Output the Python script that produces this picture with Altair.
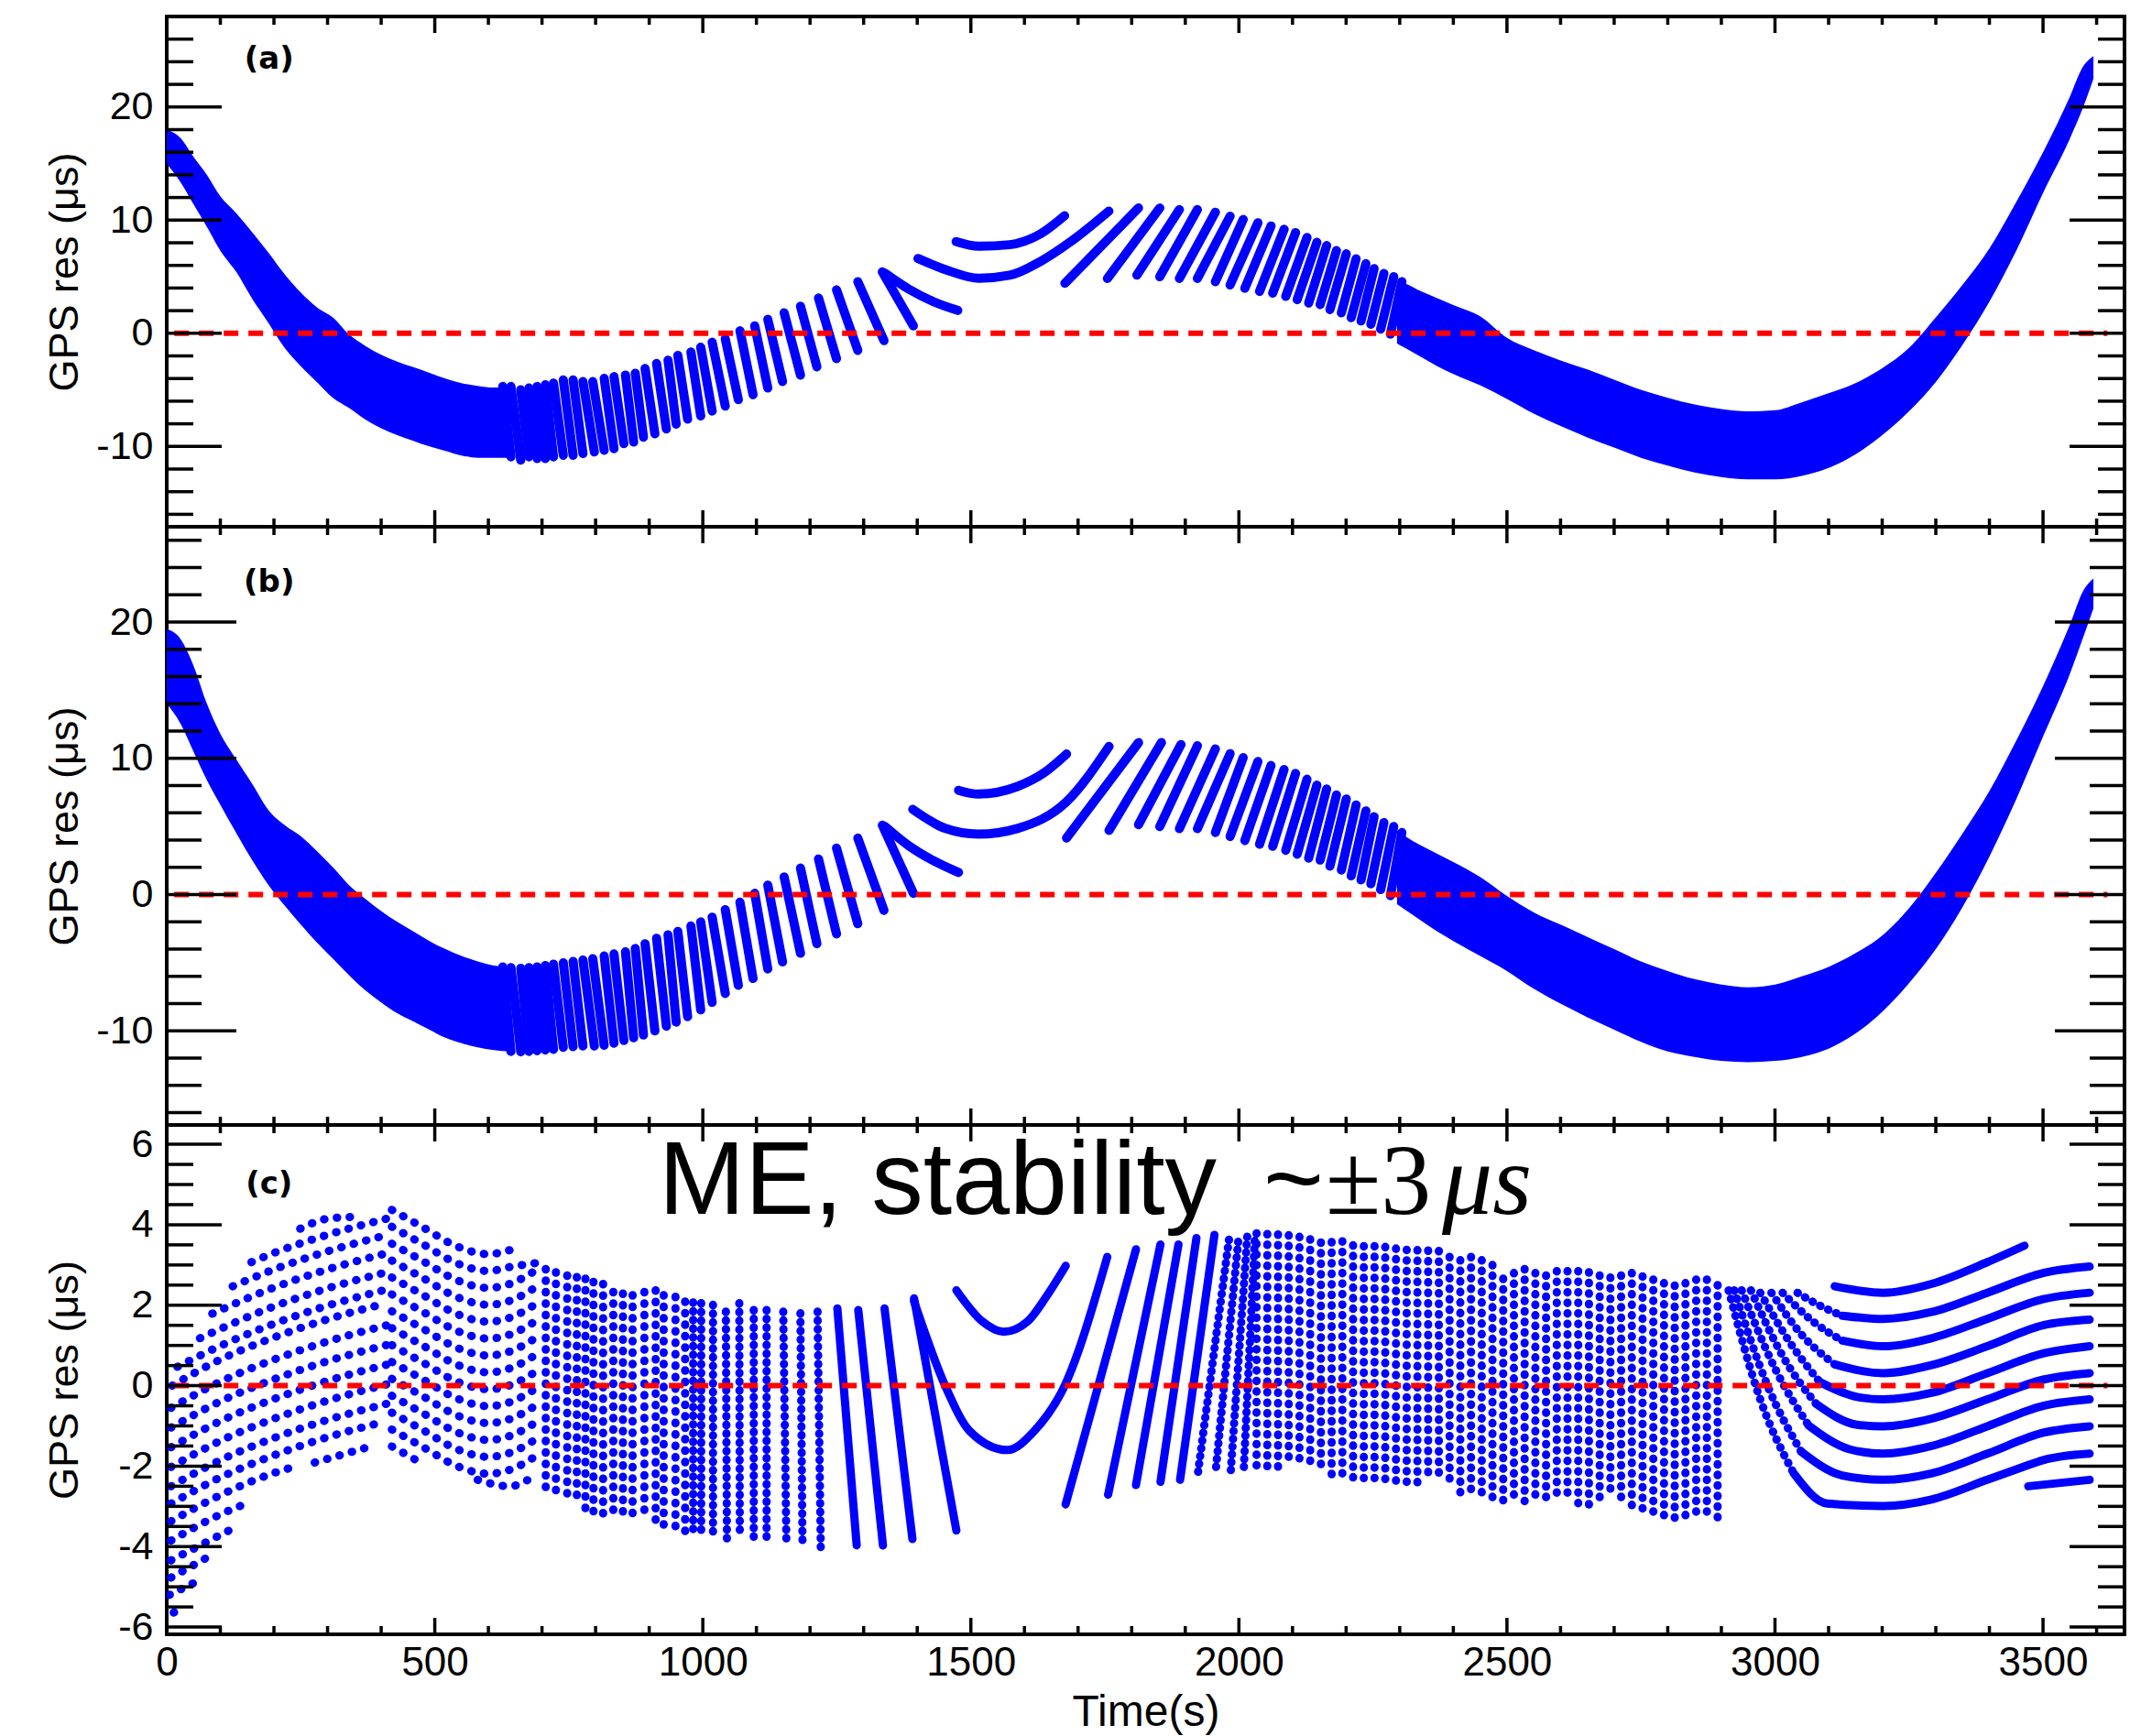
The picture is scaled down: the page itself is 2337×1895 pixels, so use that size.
import altair as alt
import pandas as pd

BLUE = "#0000ff"
RED = "#ff0000"
W = 2137
H_A, H_B, H_C = 557, 653, 556
X_DOMAIN = [0, 3652]
Y_DOMAIN_A = [-17.1, 28.0]
Y_DOMAIN_B = [-16.9, 27.0]
Y_DOMAIN_C = [-6.18, 6.48]
ZERO_LINE_T = [14, 3620]

X_MAJOR = [0, 500, 1000, 1500, 2000, 2500, 3000, 3500]
X_MINOR = [100, 200, 300, 400, 600, 700, 800, 900, 1100, 1200, 1300, 1400, 1600, 1700, 1800, 1900,
           2100, 2200, 2300, 2400, 2600, 2700, 2800, 2900, 3100, 3200, 3300, 3400, 3600]
Y_AB_MAJOR = [-10, 0, 10, 20]
Y_AB_MINOR = [-16, -14, -12, -8, -6, -4, -2, 2, 4, 6, 8, 12, 14, 16, 18, 22, 24, 26]
Y_C_MAJOR = [-6, -4, -2, 0, 2, 4, 6]
Y_C_MINOR = [-5.5, -5, -4.5, -3.5, -3, -2.5, -1.5, -1, -0.5, 0.5, 1, 1.5, 2.5, 3, 3.5, 4.5, 5, 5.5]

# ---------------- panel (a) ----------------
A_L_T = [0, 25, 50, 75, 100, 130, 160, 190, 220, 250, 280, 310, 340, 370, 400, 430, 460, 490, 520, 550, 580, 610, 640]
A_L_HI = [18.0, 17.3, 15.6, 14.0, 12.1, 10.6, 8.9, 7.1, 5.2, 3.6, 2.3, 1.4, -0.1, -1.1, -1.9, -2.5, -3.0, -3.5, -4.0, -4.4, -4.65, -4.8, -4.8]
A_L_LO = [15.0, 13.4, 11.4, 9.4, 7.3, 5.4, 3.0, 0.9, -1.3, -2.9, -4.3, -5.7, -6.6, -7.6, -8.4, -9.0, -9.5, -10.0, -10.4, -10.8, -11.0, -11.0, -11.0]

R_T = [2295, 2310, 2340, 2370, 2400, 2450, 2500, 2550, 2600, 2650, 2700, 2750, 2800, 2850, 2900, 2950, 3000,
       3050, 3100, 3150, 3200, 3250, 3300, 3350, 3400, 3450, 3500, 3550, 3575, 3594]
A_R_HI = [4.6, 4.4, 3.7, 3.1, 2.5, 1.5, -0.4, -1.5, -2.4, -3.2, -4.1, -5.0, -5.7, -6.3, -6.7, -6.9, -6.8, -6.1, -5.3,
          -4.4, -3.1, -1.3, 1.4, 4.3, 7.5, 11.6, 16.0, 20.9, 23.6, 24.5]
A_R_LO = [-0.9, -1.3, -2.1, -2.9, -3.6, -4.6, -5.8, -7.1, -8.2, -9.2, -10.1, -11.0, -11.7, -12.3, -12.7, -12.9, -12.9,
          -12.6, -11.9, -10.7, -9.0, -6.9, -4.3, -1.0, 2.8, 7.3, 12.4, 17.2, 20.0, 22.5]

PRE_T0 = [626.8, 642.1, 660.4, 675.7, 690.9, 706.2, 721.4, 739.7, 758.0, 776.4, 794.7, 816.0, 834.3, 855.7, 874.0,
          892.3, 913.7, 935.1, 953.4, 977.8, 996.1, 1017.4, 1041.9, 1069.3, 1096.8, 1121.2, 1151.7, 1182.2, 1215.8,
          1249.4, 1289.1, 1334.8]
PRE_T1 = [642.1, 660.4, 675.7, 690.9, 706.2, 721.4, 739.7, 758.0, 776.4, 797.7, 816.0, 834.3, 852.7, 871.0, 889.3,
          910.6, 932.0, 950.3, 971.7, 996.1, 1017.4, 1041.9, 1066.3, 1093.7, 1121.2, 1148.7, 1182.2, 1212.8, 1249.4,
          1289.1, 1337.9, 1392.8]
A_PRE_Y0 = [-4.70, -4.70, -4.99, -4.84, -4.70, -4.55, -4.41, -4.12, -4.12, -4.27, -4.27, -3.98, -3.83, -3.69, -3.54,
            -3.11, -2.67, -2.38, -1.95, -1.66, -1.23, -0.79, -0.50, 0.22, 0.66, 1.23, 1.81, 2.39, 3.12, 3.84, 4.56, 5.43]
A_PRE_Y1 = [-10.92, -11.21, -10.92, -11.07, -11.07, -10.92, -10.78, -10.78, -10.63, -10.49, -10.34, -10.20, -9.76,
            -9.62, -9.18, -8.89, -8.46, -8.03, -7.59, -7.30, -6.87, -6.44, -5.86, -5.42, -4.84, -4.26, -3.69, -2.96,
            -2.24, -1.51, -0.65, 0.66]
A_P_T = [1340, 1384, 1430, 1475.5]
A_P_Y = [5.3, 3.91, 2.8, 2.02]
A_ARC_UP_T = [1472.6, 1515.3, 1572.3, 1629.3, 1674.8]
A_ARC_UP_Y = [8.10, 7.69, 7.83, 8.77, 10.39]
A_ARC_LO_T = [1401.4, 1458.4, 1515.3, 1572.3, 1629.3, 1686.2, 1757.4]
A_ARC_LO_Y = [6.61, 5.53, 4.86, 5.13, 6.34, 8.10, 10.80]
A_POST_T0 = [1675.4, 1754.7, 1809.7, 1852.4, 1889.0, 1922.6, 1956.1, 1983.6, 2011.1, 2038.5, 2063.0, 2087.4,
             2108.7, 2130.1, 2151.5, 2169.8, 2191.1, 2209.4, 2227.8, 2246.1, 2264.4, 2282.7]
A_POST_Y0 = [4.42, 4.85, 5.14, 5.00, 4.85, 4.85, 4.56, 4.27, 3.98, 3.70, 3.55, 3.26, 2.97, 2.68, 2.54, 2.10, 1.81,
             1.38, 1.09, 0.80, 0.37, -0.07]
A_POST_T1 = [1812.7, 1852.4, 1889.0, 1922.6, 1956.1, 1983.6, 2008.0, 2035.5, 2059.9, 2084.3, 2105.7, 2127.0,
             2145.4, 2163.7, 2182.0, 2200.3, 2218.6, 2236.9, 2252.2, 2270.5, 2288.8, 2304.0]
A_POST_Y1 = [11.07, 11.07, 10.93, 10.93, 10.70, 10.35, 10.06, 9.77, 9.48, 9.19, 8.90, 8.47, 8.04, 7.75, 7.31, 7.02,
             6.58, 6.15, 5.72, 5.29, 5.00, 4.56]

# ---------------- panel (b) ----------------
B_L_T = [0, 25, 50, 75, 100, 130, 160, 190, 220, 250, 280, 310, 340, 370, 400, 430, 460, 490, 520, 550, 580, 610, 640]
B_L_HI = [19.5, 18.8, 16.8, 14.0, 11.8, 9.9, 8.1, 6.2, 5.1, 4.3, 3.2, 2.0, 0.7, -0.3, -1.2, -2.0, -2.7, -3.4, -4.0,
          -4.5, -4.9, -5.2, -5.3]
B_L_LO = [14.0, 12.6, 10.5, 8.4, 6.6, 4.5, 2.5, 0.7, -0.8, -2.2, -3.5, -4.7, -5.9, -7.0, -7.9, -8.7, -9.3, -9.9,
          -10.5, -10.9, -11.2, -11.4, -11.5]
B_R_HI = [4.7, 4.3, 3.6, 3.0, 2.4, 1.3, -0.1, -1.3, -2.2, -3.1, -4.0, -4.9, -5.6, -6.2, -6.6, -6.8, -6.6, -6.0, -5.3,
          -4.3, -3.0, -1.0, 1.6, 4.5, 7.6, 11.3, 15.3, 19.8, 22.3, 23.2]
B_R_LO = [-0.7, -1.1, -1.9, -2.7, -3.4, -4.5, -5.6, -6.9, -8.0, -9.0, -9.9, -10.8, -11.5, -11.9, -12.2, -12.3, -12.2,
          -11.9, -11.3, -10.2, -8.6, -6.5, -4.0, -0.9, 2.8, 7.0, 11.6, 16.2, 18.9, 21.0]
B_PRE_Y0 = [-5.3, -5.35, -5.4, -5.35, -5.3, -5.2, -5.1, -5.0, -4.9, -4.8, -4.7, -4.5, -4.35, -4.2, -3.95, -3.6, -3.2,
            -2.95, -2.7, -2.3, -2.0, -1.65, -1.1, -0.55, 0.1, 0.7, 1.3, 1.95, 2.62, 3.42, 4.15, 5.1]
B_PRE_Y1 = [-11.5, -11.53, -11.5, -11.45, -11.4, -11.35, -11.2, -11.15, -11.1, -11.1, -11.05, -10.9, -10.7, -10.5,
            -10.3, -10.0, -9.65, -9.35, -8.95, -8.45, -7.9, -7.25, -6.65, -6.15, -5.45, -4.93, -4.3, -3.6, -2.88,
            -2.13, -1.15, 0.1]
B_P_T = [1340, 1384, 1430, 1477]
B_P_Y = [5.0, 3.6, 2.5, 1.63]
B_ARC_UP_T = [1477, 1514, 1587, 1635, 1678.5]
B_ARC_UP_Y = [7.66, 7.38, 7.94, 8.9, 10.32]
B_ARC_LO_T = [1391.6, 1452.6, 1513.7, 1587, 1678.5, 1757.8]
B_ARC_LO_Y = [6.26, 4.86, 4.44, 4.86, 6.82, 10.88]
B_POST_T0 = [1678.5, 1757.8, 1812.8, 1852.4, 1889.0, 1922.6, 1956.1, 1983.6, 2011.1, 2038.5, 2063.0, 2087.4,
             2108.7, 2130.1, 2151.5, 2169.8, 2191.1, 2209.4, 2227.8, 2246.1, 2264.4, 2282.7]
B_POST_Y0 = [4.16, 4.72, 5.14, 5.00, 4.85, 4.85, 4.56, 4.27, 3.98, 3.70, 3.55, 3.26, 2.97, 2.68, 2.54, 2.10, 1.81,
             1.38, 1.09, 0.80, 0.37, -0.07]
B_POST_T1 = [1812.8, 1855.5, 1892.0, 1922.6, 1956.1, 1983.6, 2008.0, 2035.5, 2059.9, 2084.3, 2105.7, 2127.0,
             2145.4, 2163.7, 2182.0, 2200.3, 2218.6, 2236.9, 2252.2, 2270.5, 2288.8, 2304.0]
B_POST_Y1 = [11.16, 11.16, 11.02, 10.93, 10.70, 10.35, 10.06, 9.77, 9.48, 9.19, 8.90, 8.47, 8.04, 7.75, 7.31, 7.02,
             6.58, 6.15, 5.72, 5.29, 5.00, 4.56]

# ---------------- panel (c) ----------------
C_ROWS_RISE = [
    [(249, 3.90), (300, 4.15), (356, 4.20)],
    [(158, 3.07), (200, 3.30), (300, 3.75), (410, 4.15)],
    [(123, 2.47), (200, 2.89), (300, 3.34), (410, 3.74)],
    [(85, 1.79), (200, 2.44), (300, 2.89), (410, 3.29)],
    [(62, 1.18), (200, 1.97), (300, 2.42), (410, 2.82)],
    [(20, 0.47), (100, 0.99), (200, 1.54), (300, 1.99), (410, 2.39)],
    [(10, 0.00), (100, 0.65), (200, 1.20), (300, 1.65), (410, 2.05)],
    [(8, -0.55), (100, 0.10), (200, 0.65), (300, 1.10), (410, 1.50)],
    [(8, -1.04), (100, -0.39), (200, 0.16), (300, 0.61), (410, 1.01)],
    [(8, -1.53), (100, -0.88), (200, -0.33), (300, 0.12), (410, 0.52)],
    [(8, -2.02), (100, -1.37), (200, -0.82), (300, -0.37), (410, 0.03)],
    [(8, -2.50), (100, -1.85), (200, -1.30), (300, -0.85), (410, -0.45)],
    [(8, -2.93), (100, -2.28), (200, -1.73), (300, -1.28), (405, -0.90)],
    [(8, -3.37), (100, -2.72), (200, -2.17), (242, -2.00)],
    [(276, -1.91), (383, -1.50)],
    [(8, -3.85), (100, -3.20), (150, -2.92)],
    [(8, -4.34), (116, -3.60)],
    [(8, -4.77), (74, -4.28)],
    [(5, -5.20), (51, -4.90)],
    [(13, -5.64), (22, -5.58)],
]
C_ROWS_FALL = [
    [(420, 4.37), (480, 3.92), (540, 3.47), (600, 3.27), (640, 3.37)],
    [(420, 3.95), (480, 3.50), (540, 3.05), (600, 2.85), (640, 2.95), (690, 3.05)],
    [(420, 3.53), (480, 3.08), (540, 2.63), (600, 2.43), (640, 2.53), (690, 2.88)],
    [(420, 3.11), (480, 2.66), (540, 2.21), (600, 2.01), (640, 2.11), (690, 2.46)],
    [(420, 2.69), (480, 2.24), (540, 1.79), (600, 1.59), (640, 1.69), (690, 2.04)],
    [(420, 2.27), (480, 1.82), (540, 1.37), (600, 1.17), (640, 1.27), (690, 1.62)],
    [(420, 1.85), (480, 1.40), (540, 0.95), (600, 0.75), (640, 0.85), (690, 1.20)],
    [(420, 1.43), (480, 0.98), (540, 0.53), (600, 0.33), (640, 0.43), (690, 0.78)],
    [(420, 1.01), (480, 0.56), (540, 0.11), (600, -0.09), (640, 0.01), (690, 0.36)],
    [(420, 0.59), (480, 0.14), (540, -0.31), (600, -0.51), (640, -0.41), (690, -0.06)],
    [(420, 0.17), (480, -0.28), (540, -0.73), (600, -0.93), (640, -0.83), (690, -0.48)],
    [(420, -0.25), (480, -0.70), (540, -1.15), (600, -1.35), (640, -1.25), (690, -0.90)],
    [(420, -0.67), (480, -1.12), (540, -1.57), (600, -1.77), (640, -1.67), (690, -1.32)],
    [(420, -1.09), (480, -1.54), (540, -1.99), (600, -2.19), (640, -2.09), (690, -1.74)],
    [(420, -1.51), (480, -1.96)],
    [(580, -2.34), (640, -2.50), (690, -2.20)],
]
C_COL_A_T = [707, 726, 747, 765, 781, 796, 814, 833, 851, 869, 891, 912, 927, 949, 967]
C_COL_A_TOP = [2.90, 2.82, 2.74, 2.70, 2.66, 2.58, 2.53, 2.33, 2.29, 2.25, 2.33, 2.37, 2.25, 2.21, 2.09]
C_COL_A_BOT = [-2.79, -2.87, -2.91, -2.95, -3.20, -3.20, -3.24, -3.36, -3.40, -3.40, -3.36, -3.44, -3.48, -3.61, -3.69]
C_COL_B_T0 = [982, 997, 1019, 1043, 1068, 1095, 1119, 1150, 1182, 1214]
C_COL_B_T1 = [982, 997, 1019, 1045, 1069, 1095, 1119, 1156, 1186, 1220]
C_COL_B_TOP = [2.07, 2.05, 2.01, 1.84, 2.05, 1.88, 1.88, 1.84, 1.80, 1.84]
C_COL_B_BOT = [-3.71, -3.73, -3.73, -3.89, -3.73, -3.89, -3.93, -3.97, -4.01, -4.01]
C_TILT_T0 = [1251, 1290, 1339, 1394]
C_TILT_Y0 = [1.92, 1.88, 1.92, 2.17]
C_TILT_T1 = [1287, 1336, 1391, 1473]
C_TILT_Y1 = [-3.97, -3.97, -3.81, -3.60]
C_U_UP_T = [1473, 1521, 1561, 1606, 1640, 1677]
C_U_UP_Y = [2.37, 1.60, 1.34, 1.60, 2.20, 2.98]
C_U_LO_T = [1394, 1452, 1498, 1568, 1618, 1675, 1754.5]
C_U_LO_Y = [2.10, 0.00, -1.13, -1.60, -1.13, 0.00, 3.20]
C_RISE_T0 = [1676.7, 1756.0, 1808.0, 1853.7, 1890.3, 1923.9, 1957.5, 1984.9, 2009.3]
C_RISE_Y0 = [-2.95, -2.71, -2.47, -2.39, -2.34, -2.14, -2.02, -2.10, -2.02]
C_RISE_T1 = [1808.0, 1853.7, 1887.3, 1920.8, 1954.4, 1981.9, 2000.0, 2016.0, 2030.0]
C_RISE_Y1 = [3.39, 3.51, 3.51, 3.67, 3.75, 3.67, 3.75, 3.79, 3.75]
C_COL_C_T = [2033, 2053, 2073, 2093, 2113, 2133, 2153, 2173, 2193, 2213, 2233, 2253, 2273, 2293, 2313, 2333, 2353,
             2373, 2393, 2413, 2433, 2453, 2473, 2493, 2513, 2533, 2553, 2573, 2593]
C_COL_C_TOP = [3.79, 3.77, 3.76, 3.74, 3.70, 3.64, 3.56, 3.57, 3.59, 3.49, 3.47, 3.47, 3.45, 3.41, 3.38, 3.37, 3.36,
               3.35, 3.20, 3.12, 3.20, 3.12, 3.00, 2.66, 2.80, 2.90, 2.80, 2.74, 2.85]
C_COL_C_BOT = [-2.02, -2.02, -2.02, -2.02, -2.02, -2.02, -2.16, -2.22, -2.27, -2.29, -2.30, -2.30, -2.36, -2.41, -2.42,
               -2.40, -2.39, -2.40, -2.55, -2.70, -2.67, -2.75, -2.88, -2.91, -2.89, -2.87, -2.93, -2.90, -2.70]
C_COL_D_T = [2613, 2633, 2653, 2673, 2693, 2713, 2733, 2753, 2773, 2793, 2813, 2833, 2853, 2873, 2893]
C_COL_D_TOP = [2.85, 2.85, 2.82, 2.74, 2.69, 2.74, 2.80, 2.72, 2.64, 2.55, 2.49, 2.55, 2.64, 2.64, 2.50]
C_COL_D_BOT = [-2.75, -2.95, -2.98, -2.85, -2.78, -2.95, -3.10, -3.16, -3.21, -3.25, -3.29, -3.33, -3.35, -3.37, -3.37]
C_ROWS_DESC = [
    [(3042.0, 2.31), (3083.6, 1.99), (3125.3, 1.74)],
    [(3014.2, 2.31), (3069.7, 1.61), (3125.3, 1.12)],
    [(2993.3, 2.31), (3048.9, 1.28), (3111.4, 0.53)],
    [(2972.5, 2.31), (3028.1, 1.07), (3083.6, 0.09)],
    [(2955.1, 2.37), (3014.2, 0.74), (3076.6, -0.45)],
    [(2937.8, 2.37), (3000.3, 0.42), (3062.8, -0.99)],
    [(2923.9, 2.37), (2986.4, -0.01), (3048.9, -1.64)],
    [(2913.5, 2.37), (2972.5, -0.34), (3035.0, -2.18)],
]
C_ROWS_FLAT = [
    [(3111.4, 2.47), (3201.6, 2.31), (3291.9, 2.53), (3396.0, 3.07), (3465.4, 3.48)],
    [(3125.3, 1.74), (3201.6, 1.66), (3291.9, 1.83), (3396.0, 2.31), (3500.2, 2.80), (3587.0, 2.96)],
    [(3125.3, 1.12), (3201.6, 0.98), (3291.9, 1.18), (3396.0, 1.66), (3500.2, 2.15), (3587.0, 2.31)],
    [(3111.4, 0.53), (3201.6, 0.31), (3291.9, 0.51), (3396.0, 0.98), (3500.2, 1.50), (3587.0, 1.64)],
    [(3083.6, 0.09), (3153.0, -0.28), (3201.6, -0.34), (3291.9, -0.18), (3396.0, 0.31), (3500.2, 0.80), (3587.0, 0.98)],
    [(3076.6, -0.45), (3153.0, -0.97), (3201.6, -1.01), (3291.9, -0.82), (3396.0, -0.34), (3500.2, 0.15), (3587.0, 0.31)],
    [(3062.8, -0.99), (3139.1, -1.58), (3201.6, -1.69), (3291.9, -1.50), (3396.0, -1.01), (3500.2, -0.50), (3587.0, -0.34)],
    [(3048.9, -1.64), (3125.3, -2.23), (3201.6, -2.34), (3291.9, -2.18), (3396.0, -1.69), (3500.2, -1.17), (3587.0, -1.01)],
    [(3035.0, -2.18), (3097.5, -2.93), (3201.6, -2.99), (3291.9, -2.83), (3396.0, -2.34), (3465.4, -2.01), (3500.2, -1.85), (3587.0, -1.69)],
    [(3472.4, -2.50), (3587.0, -2.34)],
]

LABEL_T = 191
LABEL_Y = {"a": 24.2, "b": 22.9, "c": 5.0}
ANNOT_SANS = [("ME, stability", 917.7), ("~", 2045.6)]
ANNOT_PM = ("±3", 2161.8)
ANNOT_MU = ("μs", 2378.9)
ANNOT_Y = 4.28


# ---------------- helpers ----------------
def paths_df(paths, tag):
    rec = []
    for k, p in enumerate(paths):
        for i, (t, y) in enumerate(p):
            rec.append((f"{tag}{k}", i, t, y))
    return pd.DataFrame(rec, columns=["id", "i", "t", "y"])


def seg_paths(t0, y0, t1, y1):
    return [[(a, b), (c, d)] for a, b, c, d in zip(t0, y0, t1, y1)]


def band_df(parts):
    frames = []
    for tag, t, lo, hi in parts:
        frames.append(pd.DataFrame({"id": tag, "t": t, "y": lo, "y2": hi}))
    return pd.concat(frames, ignore_index=True)


def text_df(items, y):
    return pd.DataFrame({"s": [s for s, _ in items], "t": [t for _, t in items], "y": [y] * len(items)})


def y_axis(values, h):
    return alt.Axis(values=values, labelExpr="'' + datum.value", title="GPS res (μs)",
                    titleFont="Liberation Sans", titleFontSize=45, titleFontWeight="normal", titleColor="black",
                    titleAngle=270, titleX=-98, titleY=h / 2, titleAlign="center", titleBaseline="alphabetic",
                    labelFont="Liberation Sans", labelFontSize=43, labelColor="black", labelPadding=15,
                    labelFlush=False, labelOverlap=False, ticks=False, tickSize=0, domain=False, grid=False)


X_AXIS_C = alt.Axis(values=X_MAJOR, labelExpr="'' + datum.value", title="Time(s)",
                    titleFont="Liberation Sans", titleFontSize=48, titleFontWeight="normal", titleColor="black",
                    titleBaseline="alphabetic", titleY=99,
                    labelFont="Liberation Sans", labelFontSize=44, labelColor="black", labelPadding=9,
                    labelFlush=False, labelOverlap=False, ticks=False, tickSize=0, domain=False, grid=False)


def panel(h, ydom, yaxis, xaxis, bands, line_layers, label, ymaj, ymin, ylen, texts=()):
    xs = alt.Scale(domain=X_DOMAIN, nice=False, zero=False)
    ys = alt.Scale(domain=ydom, nice=False, zero=False)

    def ex():
        return alt.X("t:Q", scale=xs, axis=xaxis)

    def ey():
        return alt.Y("y:Q", scale=ys, axis=yaxis)

    layers = []
    if bands is not None:
        layers.append(alt.Chart(bands).mark_area(color=BLUE, clip=True, interpolate="monotone").encode(
            x=ex(), y=ey(), y2=alt.Y2("y2:Q"), detail="id:N"))
    for df, kw in line_layers:
        layers.append(alt.Chart(df).mark_line(color=BLUE, clip=True, strokeCap="round", strokeJoin="round", **kw)
                      .encode(x=ex(), y=ey(), detail="id:N", order="i:Q"))
    zero = pd.DataFrame({"t": ZERO_LINE_T, "y": [0, 0]})
    layers.append(alt.Chart(zero).mark_line(color=RED, strokeWidth=6, strokeDash=[16, 11]).encode(x=ex(), y=ey()))
    xmj = pd.DataFrame({"t": X_MAJOR})
    xmn = pd.DataFrame({"t": X_MINOR})
    for df, ln in ((xmj, 18), (xmn, 9)):
        layers.append(alt.Chart(df).mark_rule(color="black", strokeWidth=3.5).encode(
            x=ex(), y=alt.value(0), y2=alt.value(ln)))
        layers.append(alt.Chart(df).mark_rule(color="black", strokeWidth=3.5).encode(
            x=ex(), y=alt.value(h), y2=alt.value(h - ln)))
    ymj = pd.DataFrame({"y": ymaj})
    ymn = pd.DataFrame({"y": ymin})
    for df, ln in ((ymj, ylen[0]), (ymn, ylen[1])):
        layers.append(alt.Chart(df).mark_rule(color="black", strokeWidth=3.5).encode(
            y=ey(), x=alt.value(0), x2=alt.value(ln)))
        layers.append(alt.Chart(df).mark_rule(color="black", strokeWidth=3.5).encode(
            y=ey(), x=alt.value(W), x2=alt.value(W - ln)))
    layers.append(alt.Chart(label).mark_text(font="DejaVu Sans", fontWeight="bold", fontSize=34, color="black",
                                             align="center", baseline="middle").encode(x=ex(), y=ey(), text="s:N"))
    for df, kw in texts:
        layers.append(alt.Chart(df).mark_text(color="black", align="left", baseline="alphabetic", **kw)
                      .encode(x=ex(), y=ey(), text="s:N"))
    return alt.layer(*layers).properties(width=W, height=h)


SOLID10 = dict(strokeWidth=10)
SOLID10S = dict(strokeWidth=10, interpolate="monotone")

# panel (a)
a_bands = band_df([("L", A_L_T, A_L_LO, A_L_HI), ("R", R_T, A_R_LO, A_R_HI)])
a_segs = paths_df(seg_paths(PRE_T0, A_PRE_Y0, PRE_T1, A_PRE_Y1) +
                  seg_paths(A_POST_T0, A_POST_Y0, A_POST_T1, A_POST_Y1), "s")
a_curves = paths_df([list(zip(A_P_T, A_P_Y)), list(zip(A_ARC_UP_T, A_ARC_UP_Y)),
                     list(zip(A_ARC_LO_T, A_ARC_LO_Y))], "c")
pa = panel(H_A, Y_DOMAIN_A, y_axis(Y_AB_MAJOR, H_A), None, a_bands,
           [(a_segs, SOLID10), (a_curves, SOLID10S)],
           pd.DataFrame({"t": [LABEL_T], "y": [LABEL_Y["a"]], "s": ["(a)"]}),
           Y_AB_MAJOR, Y_AB_MINOR, (60, 29))

# panel (b)
b_bands = band_df([("L", B_L_T, B_L_LO, B_L_HI), ("R", R_T, B_R_LO, B_R_HI)])
b_segs = paths_df(seg_paths(PRE_T0, B_PRE_Y0, PRE_T1, B_PRE_Y1) +
                  seg_paths(B_POST_T0, B_POST_Y0, B_POST_T1, B_POST_Y1), "s")
b_curves = paths_df([list(zip(B_P_T, B_P_Y)), list(zip(B_ARC_UP_T, B_ARC_UP_Y)),
                     list(zip(B_ARC_LO_T, B_ARC_LO_Y))], "c")
pb = panel(H_B, Y_DOMAIN_B, y_axis(Y_AB_MAJOR, H_B), None, b_bands,
           [(b_segs, SOLID10), (b_curves, SOLID10S)],
           pd.DataFrame({"t": [LABEL_T], "y": [LABEL_Y["b"]], "s": ["(b)"]}),
           Y_AB_MAJOR, Y_AB_MINOR, (76, 38))

# panel (c)
c_rows_dotted = paths_df(C_ROWS_RISE + C_ROWS_FALL, "r")
c_cols_a = paths_df(seg_paths(C_COL_A_T, C_COL_A_TOP, C_COL_A_T, C_COL_A_BOT), "ca")
c_cols_b = paths_df(seg_paths(C_COL_B_T0, C_COL_B_TOP, C_COL_B_T1, C_COL_B_BOT), "cb")
c_tilt = paths_df(seg_paths(C_TILT_T0, C_TILT_Y0, C_TILT_T1, C_TILT_Y1) +
                  seg_paths(C_RISE_T0[:5], C_RISE_Y0[:5], C_RISE_T1[:5], C_RISE_Y1[:5]), "t")
c_rise_dot = paths_df(seg_paths(C_RISE_T0[5:], C_RISE_Y0[5:], C_RISE_T1[5:], C_RISE_Y1[5:]), "rd")
c_us = paths_df([list(zip(C_U_UP_T, C_U_UP_Y)), list(zip(C_U_LO_T, C_U_LO_Y))], "u")
c_cols_c = paths_df(seg_paths(C_COL_C_T + C_COL_D_T, C_COL_C_TOP + C_COL_D_TOP,
                              C_COL_C_T + C_COL_D_T, C_COL_C_BOT + C_COL_D_BOT), "cc")
c_rows_desc = paths_df(C_ROWS_DESC, "d")
c_rows_flat = paths_df(C_ROWS_FLAT, "e")

texts_c = [
    (text_df(ANNOT_SANS, ANNOT_Y), dict(font="Liberation Sans", fontSize=113)),
    (text_df([ANNOT_PM], ANNOT_Y), dict(font="Liberation Serif", fontSize=110)),
    (text_df([ANNOT_MU], ANNOT_Y), dict(font="Liberation Serif", fontSize=110, fontStyle="italic")),
]
pc = panel(H_C, Y_DOMAIN_C, y_axis(Y_C_MAJOR, H_C), X_AXIS_C, None,
           [(c_rows_dotted, dict(strokeWidth=9, strokeDash=[0.5, 13.5], interpolate="monotone")),
            (c_cols_a, dict(strokeWidth=9, strokeDash=[0.5, 12])),
            (c_cols_b, dict(strokeWidth=9, strokeDash=[0.5, 9])),
            (c_tilt, dict(strokeWidth=9)),
            (c_rise_dot, dict(strokeWidth=9, strokeDash=[0.5, 8])),
            (c_us, dict(strokeWidth=9, interpolate="monotone")),
            (c_cols_c, dict(strokeWidth=9, strokeDash=[0.5, 11])),
            (c_rows_desc, dict(strokeWidth=9, strokeDash=[0.5, 9], interpolate="monotone")),
            (c_rows_flat, dict(strokeWidth=9, interpolate="monotone"))],
           pd.DataFrame({"t": [LABEL_T], "y": [LABEL_Y["c"]], "s": ["(c)"]}),
           Y_C_MAJOR, Y_C_MINOR, (60, 29), texts=texts_c)

chart = alt.vconcat(pa, pb, pc, spacing=0, bounds="flush").properties(
    padding={"left": 46, "top": 14, "right": 10, "bottom": 0},
    background="white",
).configure_view(stroke="black", strokeWidth=4)

chart.save("out.html", embed_options={"renderer": "svg", "actions": False})
